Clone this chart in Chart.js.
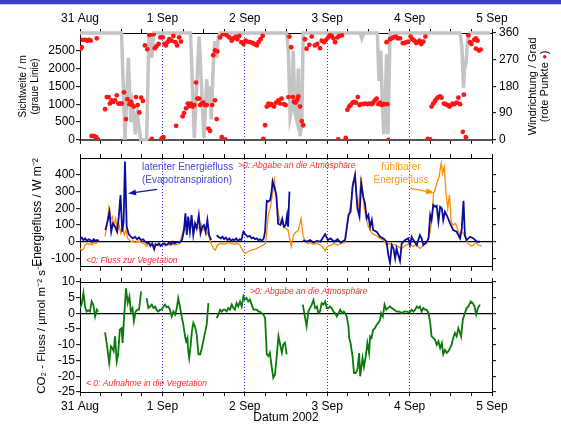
<!DOCTYPE html>
<html>
<head>
<meta charset="utf-8">
<script src="https://cdn.jsdelivr.net/npm/chart.js@4"></script>
<style>
  html, body { margin: 0; padding: 0; background: #fff; }
  #wrap { position: relative; width: 561px; height: 426px; overflow: hidden; }
  #bar { position: absolute; left: 0; top: 0; width: 561px; height: 4px; background: #3b3bc9; border-bottom: 1px solid #cacaf0; }
  canvas { position: absolute; left: 0; }
</style>
</head>
<body>
<div id="wrap">
  <div id="bar"></div>
  <canvas id="cTop" width="561" height="150" style="top:0"></canvas>
  <canvas id="cMid" width="561" height="125" style="top:150px"></canvas>
  <canvas id="cBot" width="561" height="166" style="top:260px"></canvas>
</div>
<script>
// Zeitachse: Stunden ab 31 Aug 00:00
const dayLabels = { 0: "31 Aug", 24: "1 Sep", 48: "2 Sep", 72: "3 Sep", 96: "4 Sep", 120: "5 Sep" };
const visTicks = [0, 500, 1000, 1500, 2000, 2500];
const dirTicks = [0, 90, 180, 270, 360];
const fluxTicks = [-100, 0, 100, 200, 300, 400];
const co2Ticks = [-25, -20, -15, -10, -5, 0, 5, 10];

// Sichtweite / m  [Stunde, Wert]
const visibility = [
  [0,3000],[12.1,3000],[12.6,1500],[13.1,0],[13.6,1200],[14.1,2300],[14.4,1500],[14.8,500],[15.3,1000],[15.7,750],
  [16.1,150],[16.7,700],[17.1,400],[17.7,0],[19.4,0],[20.1,3000],[20.9,2300],[21.4,3000],
  [32.2,3000],[33.3,50],[34,1500],[34.7,2900],[36.1,50],[36.9,1700],[37.4,1000],[37.9,1500],[38.2,570],[38.8,2050],
  [39.3,2770],[39.8,2300],[40.3,2900],[40.8,3000],
  [60.2,3000],[60.7,2500],[61.2,650],[61.7,900],[62.1,2500],[62.6,750],[63.1,550],[63.6,2000],[64.1,100],[64.6,500],[65,3000],
  [81.6,3000],[82.1,2850],[82.6,3000],
  [86.6,3000],[87.1,1650],[87.6,2500],[88.1,900],[88.5,160],[89,1400],[89.3,2400],[89.7,160],[90.3,3000],
  [110.7,3000],[111.2,2650],[111.7,1465],[112,2000],[112.4,2140],[112.9,2800],[113.6,3000],[119.5,3000]
];

// Windrichtung / Grad  [Stunde, Wert]
const windDir = [
  [0.2,307],[0.5,312],[0.8,337],[1.5,337],[2.1,334],[2.7,337],[3.1,334],[4.9,342],
  [3.4,13],[4.1,12],[4.7,9],[5.2,1],
  [7.3,103],[7.8,144],[8.3,144],[8.7,122],[9.2,133],[9.7,128],[10.2,133],[10.7,150],[11.2,122],[11.7,122],[12.2,122],
  [12.8,160],[13.4,70],[13.8,137],[14.4,120],[14.8,128],[15.2,117],[15.7,112],[16.3,144],[16.8,117],[17.3,92],[17.8,142],[18.3,131],
  [18.9,318],[19.6,305],[20.2,353],[20.7,356],[21.4,356],[21.8,309],[22.3,316],[22.9,323],[23.4,345],[24.1,345],[24.6,323],
  [25,318],[25.5,329],[26,339],[26.7,334],[27.2,350],[27.8,329],[28.3,318],[28.9,345],[29.4,331],
  [20.9,3],[23.8,5],[24.3,9],[28,47],
  [29.9,79],[30.3,90],[30.9,106],[31.4,122],[31.8,114],[32.3,122],[32.8,112],[33.3,117],[33.8,193],[34.2,139],[34.7,139],
  [35,117],[35.4,122],[35.9,125],[36.4,117],[36.9,117],[37.4,38],[37.9,30],[38.5,117],[39.3,133],[39.8,70],[41.3,9],[42.3,1],
  [38.8,285],[39.3,301],[40,298],[40.8,345],[41.6,356],[42.2,358],[42.7,352],[43.5,345],[44.2,334],[44.7,342],[45.3,347],
  [45.8,339],[46.4,350],[47,329],[47.6,323],[48.2,334],[48.7,331],[49.5,329],[50.2,327],[50.8,323],[51.5,318],[52,329],
  [52.6,339],[53.2,350],
  [53.4,3],[53.9,49],[54.4,112],[54.9,122],[55.3,117],[55.8,120],[56.5,112],[57.1,125],[57.8,133],
  [58.3,122],[58.7,139],[59.4,120],[59.9,117],[60.7,144],[61,348],[61.5,312],[62,144],[62.3,128],[62.8,125],[63.3,135],
  [63.6,146],[64.1,112],[64.6,63],[65,49],
  [65.5,339],[66,307],[66.8,320],[67.5,348],[68.4,318],[69.1,323],[69.9,309],[70.4,334],[71.1,329],[71.7,337],[72.3,345],
  [72.8,352],[73.3,350],[73.8,342],[74.3,329],[75,345],[75.5,350],[76.3,352],
  [75.2,1],[77.4,6],
  [77.9,101],[78.4,112],[78.8,117],[79.4,125],[79.8,128],[80.4,125],[80.9,144],[81.4,117],[81.8,120],[82.5,120],[83,122],
  [83.7,120],[84.3,122],[85,120],[85.4,125],[85.9,133],[86.4,139],[86.9,120],[87.4,125],[87.9,117],[88.3,120],[88.8,120],[89.5,120],
  [89.3,329],[89.8,0],[90.3,339],[90.8,342],[91.3,345],[92,348],[92.5,342],[93.2,342],[94,326],[94.5,326],[95.1,329],
  [95.6,331],[96.3,348],[96.8,339],[97.4,334],[97.9,326],[98.4,329],[98.9,334],[99.4,323],[100,331],[100.6,348],
  [101.3,3],[102,1],
  [102.4,112],[102.9,122],[103.4,131],[103.9,139],[104.4,144],[104.9,146],[105.3,142],[106,122],[106.5,120],[107,117],
  [107.6,112],[108.1,117],[108.5,122],[109,120],[109.7,125],[110.2,142],[110.7,120],
  [111.5,27],[112.4,9],[111.8,152],
  [113.1,352],[113.6,329],[114,323],[114.8,337],[115.3,342],[115.8,334],[115.3,307],[116.2,301],[116.7,304]
];

// latenter Energiefluss / W m-2  [Stunde, Wert]
const latentFlux = [
  [0,15],[0.5,25],[1,10],[1.5,20],[2,5],[2.5,15],[3,10],[3.5,0],[4,15],[4.5,5],[5,10],[5.5,5],[6,null],
  [7.4,70],[8,120],[8.6,180],[9.1,60],[9.6,110],[10.2,90],[10.8,60],[11.3,150],[11.8,280],[12.3,60],[12.7,120],[13.1,480],
  [13.6,90],[14.2,45],[14.8,30],[15.4,20],[16,30],[16.6,15],[17.2,25],[17.8,10],[18.4,15],[19,0],[19.5,-10],[20,-5],
  [20.5,-25],[21,-10],[21.6,-45],[22,-15],[22.5,-20],[23,-10],[23.5,-25],[24,-15],[24.5,-10],[25,-20],[25.5,-15],[26,-5],
  [26.5,-15],[27,0],[27.5,-10],[28,-5],[28.5,0],[29,-5],[29.7,10],[30.3,70],[30.7,170],[31.1,40],[31.5,150],[32,60],
  [32.5,160],[33,40],[33.5,110],[34,80],[34.6,160],[35.1,50],[35.6,90],[36.1,100],[36.6,60],[37.1,130],[37.6,40],[38.2,10],
  [39,null],
  [39.8,40],[40.3,30],[41,20],[41.5,30],[42,15],[42.5,25],[43,10],[43.5,20],[44,5],[44.5,15],[45,10],[45.5,20],[46,5],
  [46.5,15],[47,10],[47.6,60],[48.2,45],[48.8,30],[49.4,35],[50,20],[50.5,25],[51,15],[51.5,20],[52,10],[52.5,15],[53,5],
  [53.5,20],[53.9,60],[54.4,245],[54.9,240],[55.4,250],[55.8,300],[56.1,362],[56.7,320],[57.2,276],[57.7,108],[58.4,100],
  [58.9,137],[59.4,90],[59.9,100],[60.3,156],[60.6,90],[61,300],[61.5,null],
  [65,10],[66,0],[67,10],[68,-5],[69,5],[70,0],[71.4,45],[72.2,10],[73,20],[74,0],[75,15],[76,-5],[77.2,10],[78.2,160],
  [78.8,180],[79.4,330],[80.1,400],[80.8,200],[81.4,150],[81.9,350],[82.5,270],[83,230],[83.5,140],[84,160],[84.5,90],
  [85,130],[85.4,70],[86.4,60],[87.4,30],[88.4,20],[89.3,0],[89.8,-80],[90.3,-125],[90.8,-20],[91.3,-40],[91.8,-100],
  [92.2,-40],[92.7,-80],[93.2,-115],[93.7,-10],[94.7,10],[95.6,20],[96.1,-20],[96.6,30],[97.1,10],[98.1,-20],[99,40],
  [99.5,20],[100,-20],[101,0],[101.5,20],[102,160],[102.4,130],[102.9,220],[103.4,210],[103.9,215],[104.4,120],[104.9,210],
  [105.4,200],[105.8,130],[106.3,180],[106.8,160],[107.8,110],[108.7,70],[109.7,60],[110.7,20],[111.2,80],[111.7,245],
  [112.1,40],[112.6,10],[113.6,30],[114.6,20],[115.6,0],[116.5,0]
];

// fühlbarer Energiefluss / W m-2  [Stunde, Wert]
const sensibleFlux = [
  [0,-40],[0.5,-50],[1,-45],[1.5,-20],[2,-10],[2.5,-15],[3,-10],[3.5,-20],[4,-5],[4.5,-10],[5,-5],[5.5,0],[6,null],
  [7.3,30],[7.8,90],[8.4,200],[8.9,130],[9.4,150],[9.9,100],[10.4,140],[10.9,60],[11.4,100],[11.9,50],[12.4,90],[12.9,40],
  [13.4,70],[13.9,20],[14.4,10],[15,0],[15.5,5],[16,-5],[17,5],[18,-5],[18.5,-10],[19,-20],[19.5,-30],[20,-10],[21,-20],
  [22,-15],[23,-25],[24,-20],[25,-15],[26,-20],[27,-15],[28,-20],[29,-10],
  [29.7,40],[30.2,80],[30.7,120],[31.2,70],[31.7,130],[32.2,80],[32.7,120],[33.2,60],[33.7,100],[34.2,90],[34.7,80],
  [35.2,110],[35.7,70],[36.2,90],[36.7,40],[37.2,60],[37.7,20],[38.2,-10],[38.8,-40],[39.4,-50],[40,-20],[41,-10],[42,-15],
  [43,-5],[44,-10],[45,-15],[46,-10],[46.6,-20],[47.6,-60],[48.2,-70],[49,-60],[50,-50],[51,-45],[52.4,-30],[53.4,-20],[54,-10],
  [54.4,60],[54.9,166],[55.4,200],[55.9,265],[56.6,372],[57.1,276],[57.7,176],[58.4,108],[58.9,110],[59.4,90],[60,80],
  [60.6,70],[61.5,-30],[62.2,40],[63,60],[63.6,70],[64.4,140],[65,30],[65.6,10],[66.4,-10],[67,-5],[68,-15],[69,-10],
  [70,-20],[71,-40],[71.4,-55],[72,-30],[73,-20],[74,-10],[75,-20],[76,-10],[77.2,-5],
  [78.2,150],[79.1,255],[79.4,350],[80.1,390],[81,180],[81.9,385],[82.8,200],[83.5,130],[84,90],[85,50],[86,40],[87.4,20],
  [88.4,10],[89.3,-20],[90.3,-10],[91.8,-20],[93.7,-40],[95,-20],[96,-10],[97,-30],[98,-15],[99,-40],[100,-20],[101,-10],
  [101.5,20],[102,60],[102.5,150],[103,290],[103.5,320],[104,355],[104.6,390],[105.2,470],[105.6,410],[106.1,450],
  [106.6,290],[107.1,200],[107.6,280],[108.1,120],[108.7,100],[109.4,110],[110,70],[110.7,40],[111.2,60],[111.7,50],
  [112.3,20],[113,-10],[114,-25],[114.6,-20],[115.2,-5],[116,-20],[117,-25]
];

// CO2-Fluss / µmol m-2 s-1  [Stunde, Wert]
const co2Flux = [
  [0,1.7],[0.5,3],[1,6.5],[1.5,2],[1.9,0.6],[2.4,1],[2.9,0.6],[3.4,3.8],[3.9,2.7],[4.4,-1],[4.9,1.2],[5.3,0.6],[6,null],
  [7.3,-6],[7.9,-10.5],[8.5,-15.8],[9,-10.5],[9.4,-11],[9.8,-12],[10.2,-7.3],[10.7,-15.3],[11.1,-13],[11.6,-5.2],[12.1,-4.7],
  [12.4,-9.4],[12.8,-2],[13.4,8],[13.9,3.3],[14.4,5.4],[14.8,0.6],[15.3,1.7],[15.7,-2.5],[16.2,0.6],[16.7,1.2],[17.2,1.2],
  [17.8,7],[18.5,null],
  [19.4,4.9],[19.9,1.7],[20.4,2.2],[20.9,2.8],[21.4,1.7],[21.9,2.2],[22.3,1.2],[22.8,0.6],[23.3,1.2],[23.8,1.2],[24.3,2.2],
  [24.8,2.8],[25.2,2],[25.7,2.2],[26.2,1.2],[26.7,-1],[27.2,0.6],[27.7,-0.4],[28.2,1.7],[28.6,4.9],[29.1,2.2],[29.6,-1],
  [30.1,-3.6],[30.6,-7.3],[30.9,-8.9],[31.3,-7.8],[31.5,-11.6],[31.8,-14.2],[32.2,-10.5],[32.6,-5.7],[33,-3],[33.5,-4.2],
  [34,-6.8],[34.5,-13],[35,-13],[35.4,-11.4],[35.9,-8.9],[36.4,-6.2],[36.9,-3.6],[37.4,3.3],[38.5,null],
  [39.8,-1.5],[40.3,-0.4],[40.8,1.2],[41.3,0.6],[41.8,1.2],[42.2,1.2],[42.7,0.6],[43.2,1.7],[43.7,1.2],[44.2,2.8],[44.7,1.7],
  [45.1,1.2],[45.6,3.3],[46.1,2.2],[46.6,3.8],[47.1,2.2],[47.6,5.4],[48,4.4],[48.5,4.9],[49,3.8],[49.5,4.4],[50,2.8],
  [50.5,1.2],[51,1.2],[51.5,1.2],[52,0.6],[52.4,0.6],[52.9,0.1],[53.4,-0.4],[53.9,-1.4],[54.4,-13],[54.9,-13.6],[55.3,-12.5],
  [55.8,-16.8],[56.3,-20.5],[56.8,-19.4],[57.3,-13.6],[57.8,-7.2],[58.3,-9.9],[58.8,-12.5],[59.2,-9.9],[59.7,-9.3],[60.2,-13],
  [61,null],
  [64.9,2.8],[65.4,-0.4],[66,-4.1],[66.5,0.6],[67,1.7],[67.5,2.8],[68,4.3],[68.5,1.7],[69,2.2],[69.4,0.1],[69.9,0.6],
  [70.4,3.3],[70.9,2.8],[71.4,3.8],[71.9,1.7],[72.4,1.7],[72.8,2.2],[73.3,1.7],[73.8,0.6],[74.3,0.1],[74.8,-1],[75.3,0.1],
  [75.8,1.2],[76.3,0.1],[76.8,0.6],[77.2,0.1],[77.7,-1],[78.2,-4.1],[78.4,-7.8],[78.8,-9.4],[79.1,-11.6],[79.4,-13.8],
  [79.8,-19],[80.3,-19],[80.8,-17.9],[81.3,-12.6],[81.6,-20],[82.1,-15.8],[82.3,-14.2],[82.7,-17],[83.2,-13.8],[83.7,-9.4],
  [84.2,-12.6],[84.5,-7.3],[84.9,-7.8],[85.4,-5.2],[85.9,-4.7],[86.4,-3.6],[86.9,-3],[87.4,-2],[87.7,0.1],[88.2,-1],
  [88.7,2.8],[89.2,1.2],[89.7,1.7],[90.2,2.2],[90.8,1.7],[91.5,1.2],[92.2,0.6],[93,0.6],[93.7,0.1],[94.4,0.6],[95.2,0.6],
  [96,0.3],[96.6,1.2],[97.1,0.6],[97.6,1.2],[98.1,2.2],[98.6,1.7],[99,2.2],[99.5,0.6],[100,1.7],[100.5,1.2],[101,1.2],
  [101.5,0.1],[102,-3],[102.4,-7.3],[102.9,-7.8],[103.4,-8.4],[103.9,-10],[104.4,-8.9],[104.9,-11],[105.4,-9.4],[105.8,-13],
  [106.3,-11.6],[106.8,-12.6],[107.3,-12],[107.8,-11],[108.2,-10],[108.7,-7.8],[109.2,-6.2],[109.7,-7.3],[110.2,-4.7],
  [110.7,-6.2],[111,-7.3],[111.5,-2],[112.1,0.1],[112.6,1.7],[113.1,2.2],[113.6,3.3],[113.8,3.8],[114.4,3.3],[114.9,2.2],
  [115.4,-0.4],[115.9,1.7],[116.5,2.8]
];

const FONT = "'Liberation Sans', Arial, sans-serif";
Chart.defaults.font.family = FONT;
Chart.defaults.font.size = 12;
Chart.defaults.color = "#000";

const dayLine = "#3535ff";
const clear = "rgba(0,0,0,0)";

function xScale(position, height, showLabels, dotted, title) {
  return {
    type: "linear", position, min: 0, max: 120,
    afterFit: s => { s.height = height; },
    ticks: { display: showLabels, stepSize: 6, autoSkip: false, maxRotation: 0, padding: 3,
      callback: v => dayLabels[v] ?? "" },
    grid: {
      drawOnChartArea: dotted, tickLength: 4, tickColor: "#000", tickWidth: 1, lineWidth: 1,
      color: c => (c.tick && c.tick.value % 24 === 0 && c.tick.value > 0 && c.tick.value < 120) ? dayLine : clear
    },
    border: { color: "#000", width: 1, dash: [1, 2] },
    title: title || { display: false }
  };
}

function yScale(position, width, min, max, tickList, showLabels, zeroLine, title) {
  return {
    type: "linear", position, min, max,
    afterFit: s => { s.width = width; },
    afterBuildTicks: s => { s.ticks = tickList.map(v => ({ value: v })); },
    ticks: { display: showLabels, autoSkip: false, padding: position === "left" ? 1 : 3,
      callback: v => String(v) },
    grid: {
      drawOnChartArea: zeroLine, tickLength: 4, tickColor: "#000", tickWidth: 1, lineWidth: 1.3,
      color: c => (zeroLine && c.tick && c.tick.value === 0) ? "#000" : clear
    },
    border: { color: "#000", width: 1 },
    title: title || { display: false }
  };
}

function notes(items, arrows) {
  return {
    id: "notes",
    afterDraw(chart) {
      const ctx = chart.ctx;
      ctx.save();
      for (const a of arrows) {
        const ang = Math.atan2(a.y2 - a.y1, a.x2 - a.x1);
        ctx.strokeStyle = a.color; ctx.fillStyle = a.color; ctx.lineWidth = 1.3;
        ctx.beginPath(); ctx.moveTo(a.x1, a.y1);
        ctx.lineTo(a.x2 - 6 * Math.cos(ang), a.y2 - 6 * Math.sin(ang)); ctx.stroke();
        ctx.beginPath(); ctx.moveTo(a.x2, a.y2);
        ctx.lineTo(a.x2 - 8 * Math.cos(ang) + 3 * Math.sin(ang), a.y2 - 8 * Math.sin(ang) - 3 * Math.cos(ang));
        ctx.lineTo(a.x2 - 8 * Math.cos(ang) - 3 * Math.sin(ang), a.y2 - 8 * Math.sin(ang) + 3 * Math.cos(ang));
        ctx.closePath(); ctx.fill();
      }
      ctx.textBaseline = "middle";
      for (const n of items) {
        ctx.font = n.font + " " + FONT;
        ctx.fillStyle = n.color;
        ctx.textAlign = n.align || "left";
        if (n.rotate) {
          ctx.save();
          ctx.translate(n.x, n.y);
          ctx.rotate(-Math.PI / 2);
          ctx.textAlign = "center";
          ctx.fillText(n.text, 0, 0);
          ctx.restore();
        } else {
          ctx.fillText(n.text, n.x, n.y);
        }
      }
      ctx.restore();
    }
  };
}

const rightTitle = {
  id: "rightTitle",
  afterDraw(chart) {
    const ctx = chart.ctx;
    const cy = (chart.chartArea.top + chart.chartArea.bottom) / 2;
    ctx.save();
    ctx.translate(533, cy);
    ctx.rotate(-Math.PI / 2);
    ctx.textBaseline = "middle";
    ctx.font = "11px " + FONT;
    ctx.fillStyle = "#000";
    ctx.textAlign = "center";
    ctx.fillText("Windrichtung / Grad", 0, 0);
    const parts = [["(rote Punkte ", "#000", "11px "], ["●", "#ff1010", "8px "], [")", "#000", "11px "]];
    let total = 0;
    for (const p of parts) { ctx.font = p[2] + FONT; total += ctx.measureText(p[0]).width; }
    let x = -total / 2;
    ctx.textAlign = "left";
    for (const p of parts) {
      ctx.font = p[2] + FONT; ctx.fillStyle = p[1];
      ctx.fillText(p[0], x, 12);
      x += ctx.measureText(p[0]).width;
    }
    ctx.restore();
  }
};

const base = {
  responsive: false, animation: false, devicePixelRatio: 1,
  layout: { padding: 0 },
  plugins: { legend: { display: false }, tooltip: { enabled: false } },
  elements: { line: { tension: 0 }, point: { radius: 0 } }
};

// oben: Sichtweite und Windrichtung
new Chart(document.getElementById("cTop"), {
  type: "line",
  data: {
    datasets: [
      { data: windDir, yAxisID: "yR", showLine: false, pointRadius: 2.4, pointBackgroundColor: "#ff1414",
        pointBorderWidth: 0, borderColor: "#ff1414" },
      { data: visibility, yAxisID: "y", borderColor: "#c4c4c4", borderWidth: 3.5, pointRadius: 0,
        clip: { left: 2, top: 4, right: 2, bottom: 2 } }
    ]
  },
  options: {
    ...base,
    scales: {
      x: xScale("top", 33, true, true),
      x2: { ...xScale("bottom", 6, false, false), border: { color: "#555", width: 2 } },
      y: yScale("left", 80, 0, 3000, visTicks, true, false,
        { display: true, text: ["Sichtweite / m", "(graue Linie)"], font: { size: 10 }, padding: { top: 17, bottom: 0 } }),
      yR: yScale("right", 69, 0, 360, dirTicks, true, false)
    }
  },
  plugins: [rightTitle]
});

// mitte: Energieflüsse
new Chart(document.getElementById("cMid"), {
  type: "line",
  data: {
    datasets: [
      { data: latentFlux, borderColor: "#0c0c9c", borderWidth: 1.8 },
      { data: sensibleFlux, borderColor: "#ff8c00", borderWidth: 1.3 }
    ]
  },
  options: {
    ...base,
    scales: {
      x: xScale("top", 8, false, true),
      x2: xScale("bottom", 6, false, false),
      y: yScale("left", 80, -150, 500, fluxTicks, true, true,
        { display: true, text: "Energiefluss / W m⁻²", font: { size: 12 }, padding: { top: 30, bottom: 0 } }),
      yR: yScale("right", 69, -150, 500, fluxTicks, false, false)
    }
  },
  plugins: [notes([
    { text: "latenter Energiefluss", x: 142, y: 17.3, color: "#4646dc", font: "10px" },
    { text: "(Evapotranspiration)", x: 142, y: 30.7, color: "#4646dc", font: "10px" },
    { text: ">0: Abgabe an die Atmosphäre", x: 238, y: 16, color: "#ff2a2a", font: "italic 8.5px" },
    { text: "<0: Fluss zur Vegetation", x: 86, y: 110.3, color: "#ff2a2a", font: "italic 8.5px" },
    { text: "fühlbarer", x: 401, y: 17.3, color: "#ff9a1a", font: "10px", align: "center" },
    { text: "Energiefluss", x: 401, y: 30, color: "#ff9a1a", font: "10px", align: "center" }
  ], [
    { x1: 157, y1: 39.3, x2: 128, y2: 43.5, color: "#14149e" },
    { x1: 410.5, y1: 38.3, x2: 434, y2: 42.8, color: "#ff8c00" }
  ])]
});

// unten: CO2-Fluss (Canvas beginnt bei 260, Plotfläche ab 282)
new Chart(document.getElementById("cBot"), {
  type: "line",
  data: {
    datasets: [
      { data: co2Flux, borderColor: "#0a7a0a", borderWidth: 1.8 }
    ]
  },
  options: {
    ...base,
    scales: {
      x: xScale("top", 22, false, true),
      x2: xScale("bottom", 34, true, false,
        { display: true, text: "Datum 2002", font: { size: 12 }, padding: { top: 0, bottom: 1 } }),
      y: yScale("left", 80, -25, 10, co2Ticks, true, true),
      yR: yScale("right", 69, -25, 10, co2Ticks, false, false)
    }
  },
  plugins: [notes([
    { text: "CO₂ - Fluss / µmol m⁻² s⁻¹", x: 42, y: 68, color: "#000", font: "11.5px", rotate: true },
    { text: ">0: Abgabe an die Atmosphäre", x: 250, y: 31.7, color: "#ff2a2a", font: "italic 8.5px" },
    { text: "< 0: Aufnahme in die Vegetation", x: 86, y: 124, color: "#ff2a2a", font: "italic 8.5px" }
  ], [])]
});
</script>
</body>
</html>
